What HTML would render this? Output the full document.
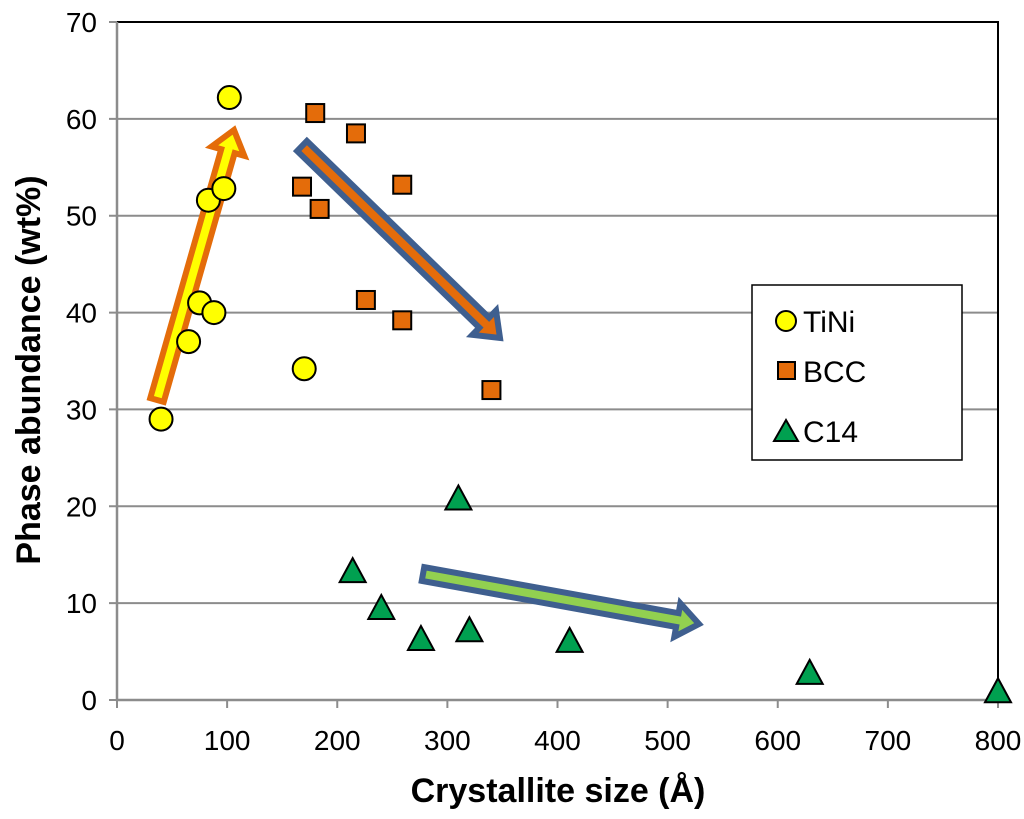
<!DOCTYPE html>
<html><head><meta charset="utf-8"><style>
body{margin:0;background:#fff;}
svg text{font-family:"Liberation Sans",Arial,sans-serif;}
</style></head><body>
<svg id="chart" width="1024" height="814" xmlns="http://www.w3.org/2000/svg">
<g id="grid"></g>
<g id="axes"></g>
<g id="arrows"></g>
<g id="marks"></g>
<text x="558" y="802" text-anchor="middle" font-size="34" font-weight="bold">Crystallite size (Å)</text>
<text transform="translate(40,370) rotate(-90)" text-anchor="middle" font-size="34" font-weight="bold">Phase abundance (wt%)</text>
<g>
<rect x="752" y="285" width="210" height="175" fill="#fff" stroke="#000" stroke-width="1.5"/>
<g><circle cx="786" cy="321" r="10" fill="#ffff00" stroke="#000" stroke-width="2"/><text x="803" y="332" font-size="30">TiNi</text></g>
<g><rect x="778" y="362" width="17" height="17" fill="#e46c0a" stroke="#000" stroke-width="2"/><text x="803" y="382" font-size="30">BCC</text></g>
<g><polygon points="786,420 798,441 774,441" fill="#00a050" stroke="#000" stroke-width="2"/><text x="803" y="442" font-size="30">C14</text></g>
</g>
</svg>
<script>
const xTicks=[0,100,200,300,400,500,600,700,800];
const yTicks=[0,10,20,30,40,50,60,70];
const tiniX=[40,65,75,88,83,97,102,170];
const tiniY=[29,37,41,40,51.6,52.8,62.2,34.2];
const bccX=[180,217,168,184,259,226,259,340];
const bccY=[60.6,58.5,53,50.7,53.2,41.3,39.2,32];
const c14X=[310,214,240,276,320,411,629,800];
const c14Y=[20.7,13.2,9.4,6.2,7.1,6,2.7,0.8];
const NS="http://www.w3.org/2000/svg";
const X0=117,X1=998,Y0=700,Y1=22;
const sx=v=>X0+(v/800)*(X1-X0);
const sy=v=>Y0-(v/70)*(Y0-Y1);
function mk(tag,attrs,parent){const e=document.createElementNS(NS,tag);for(const k in attrs)e.setAttribute(k,attrs[k]);document.getElementById(parent).appendChild(e);return e;}
yTicks.forEach(t=>{
 const l=mk('line',{x1:X0-8,x2:(t>0&&t<70)?X1:X0,y1:sy(t),y2:sy(t),stroke:'#8c8c8c','stroke-width':2},'grid');
 
 
 const tx=mk('text',{x:X0-20,y:sy(t)+10,'text-anchor':'end','font-size':28},'axes');tx.textContent=t;
 
 
});
xTicks.forEach(t=>{
 const tk=mk('line',{x1:sx(t),x2:sx(t),y1:Y0,y2:Y0+8,stroke:'#8c8c8c','stroke-width':2},'axes');
 
 
 const tx=mk('text',{x:sx(t),y:Y0+50,'text-anchor':'middle','font-size':28},'axes');tx.textContent=t;
 
 
});
const fr=mk('path',{d:`M${X0},${Y1}H${X1}V${Y0}`,fill:'none',stroke:'#000','stroke-width':2},'axes');


const ax=mk('path',{d:`M${X0},${Y1}V${Y0}H${X1}`,fill:'none',stroke:'#8c8c8c','stroke-width':2.5},'axes');


function arrow(x1,y1,x2,y2,fill,stroke,name){
 const dx=x2-x1,dy=y2-y1,L=Math.hypot(dx,dy),ux=dx/L,uy=dy/L,nx=-uy,ny=ux;
 const sw=7,hw=17,hl=22;
 const bx=x2-ux*hl,by=y2-uy*hl;
 const p=[[x1+nx*sw,y1+ny*sw],[bx+nx*sw,by+ny*sw],[bx+nx*hw,by+ny*hw],[x2,y2],[bx-nx*hw,by-ny*hw],[bx-nx*sw,by-ny*sw],[x1-nx*sw,y1-ny*sw]];
 const a=mk('polygon',{points:p.map(q=>q.join(',')).join(' '),fill:fill,stroke:stroke,'stroke-width':6,'stroke-linejoin':'miter'},'arrows');
 
 
}
tiniX.forEach((x,i)=>{const c=mk('circle',{cx:sx(x),cy:sy(tiniY[i]),r:11.5,fill:'#ffff00',stroke:'#000','stroke-width':2},'marks');
 
 });
arrow(157,400,234,130,'#ffff00','#e46c0a','tini-trend-arrow');
arrow(302,146,500,338,'#e46c0a','#3f5f8f','bcc-trend-arrow');
arrow(423,574,699,624,'#92d050','#3f5f8f','c14-trend-arrow');
bccX.forEach((x,i)=>{const r=mk('rect',{x:sx(x)-9,y:sy(bccY[i])-9,width:18,height:18,fill:'#e46c0a',stroke:'#000','stroke-width':2},'marks');
 
 });
c14X.forEach((x,i)=>{const cx=sx(x),cy=sy(c14Y[i]);
 const t=mk('polygon',{points:`${cx},${cy-14} ${cx+13},${cy+10} ${cx-13},${cy+10}`,fill:'#00a050',stroke:'#000','stroke-width':2},'marks');
 
 });
</script>
</body></html>
